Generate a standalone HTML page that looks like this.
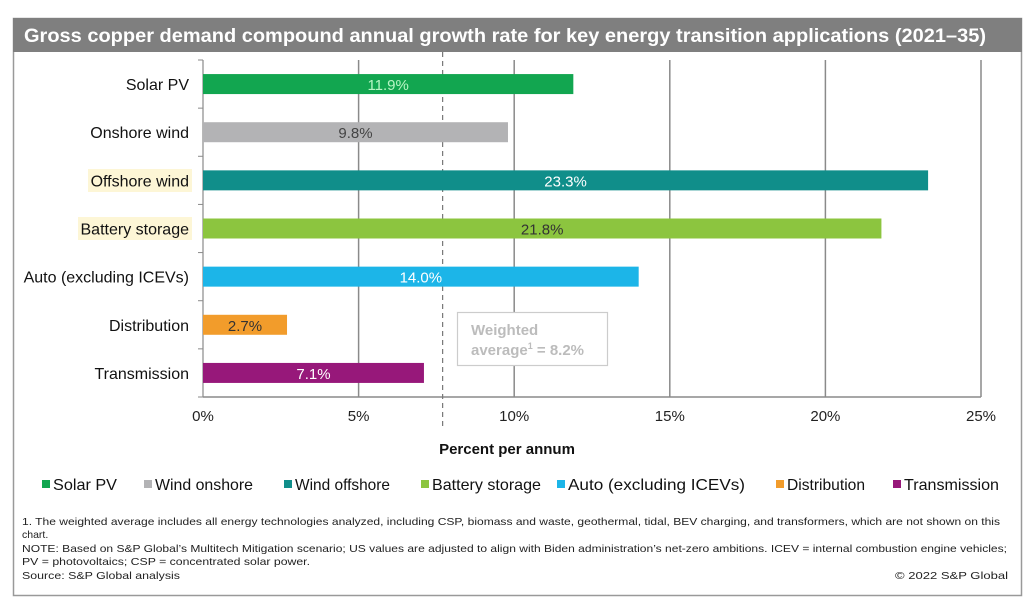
<!DOCTYPE html>
<html><head><meta charset="utf-8"><style>
html,body{margin:0;padding:0;background:#fff;}
svg{display:block;font-family:"Liberation Sans",Arial,sans-serif;}
</style></head><body>
<svg id="chart" width="1032" height="602" viewBox="0 0 1032 602">
<rect x="13.5" y="18.5" width="1008" height="577" fill="#fff" stroke="#999" stroke-width="1.5"/>
<rect x="13" y="18" width="1009" height="34" fill="#7f7f7f"/>
<text x="24" y="42" font-size="19.5" font-weight="bold" fill="#fff" textLength="962" lengthAdjust="spacingAndGlyphs">Gross copper demand compound annual growth rate for key energy transition applications (2021–35)</text>
<rect x="88" y="169" width="104" height="23" fill="#fdf6d6"/>
<rect x="78" y="217" width="114" height="23" fill="#fdf6d6"/>
<g id="grid"></g>
<g id="bars"></g>
<g id="labels"></g>
<rect x="457.5" y="312.5" width="150" height="53" fill="#fff" stroke="#ccc" stroke-width="1.2"/>
<text x="471" y="335" font-size="15" font-weight="bold" fill="#bcbcbc">Weighted</text>
<text x="471" y="355" font-size="15" font-weight="bold" fill="#bcbcbc">average<tspan font-size="9" dy="-6">1</tspan><tspan dy="6"> = 8.2%</tspan></text>
<text x="507" y="454" font-size="15" font-weight="bold" fill="#111" text-anchor="middle">Percent per annum</text>
<g id="legend"></g>
<g font-size="10.5" fill="#222">
<text x="22" y="525" textLength="978" lengthAdjust="spacingAndGlyphs">1. The weighted average includes all energy technologies analyzed, including CSP, biomass and waste, geothermal, tidal, BEV charging, and transformers, which are not shown on this</text>
<text x="22" y="538">chart.</text>
<text x="22" y="552" textLength="985" lengthAdjust="spacingAndGlyphs">NOTE: Based on S&amp;P Global’s Multitech Mitigation scenario; US values are adjusted to align with Biden administration’s net-zero ambitions. ICEV = internal combustion engine vehicles;</text>
<text x="22" y="565" textLength="288" lengthAdjust="spacingAndGlyphs">PV = photovoltaics; CSP = concentrated solar power.</text>
<text x="22" y="579" textLength="158" lengthAdjust="spacingAndGlyphs">Source: S&amp;P Global analysis</text>
<text x="1008" y="579" text-anchor="end" textLength="113" lengthAdjust="spacingAndGlyphs">© 2022 S&amp;P Global</text>
</g>
</svg>
<script>
const categories = ["Solar PV","Onshore wind","Offshore wind","Battery storage","Auto (excluding ICEVs)","Distribution","Transmission"];
const values = [11.9, 9.8, 23.3, 21.8, 14.0, 2.7, 7.1];
const valueLabels = ["11.9%","9.8%","23.3%","21.8%","14.0%","2.7%","7.1%"];
const xTicks = [0,5,10,15,20,25];
const xTickLabels = ["0%","5%","10%","15%","20%","25%"];
const legendNames = ["Solar PV","Wind onshore","Wind offshore","Battery storage","Auto (excluding ICEVs)","Distribution","Transmission"];
const averageLinePos = 7.7;

const colors = ["#12a650","#b3b3b5","#108e8a","#8cc53f","#1cb5e8","#f29c2b","#97187a"];
const labelColors = ["#b8f5c4","#444","#fff","#333","#fff","#333","#fff"];
const NS = "http://www.w3.org/2000/svg";
const X0 = 203, X1 = 981, xMax = 25, TOP = 60, BOT = 397;
const x = v => X0 + (X1 - X0) * v / xMax;
const band = (BOT - TOP) / categories.length;
const yc = i => TOP + band * (i + 0.5);
function mk(tag, attrs, parent, txt){const e=document.createElementNS(NS,tag);for(const k in attrs)e.setAttribute(k,attrs[k]);if(txt!==undefined)e.textContent=txt;parent.appendChild(e);return e;}
const grid=document.getElementById('grid'), bars=document.getElementById('bars'), labels=document.getElementById('labels'), legend=document.getElementById('legend');

xTicks.forEach((t,i)=>{
  if(t>0){const l=mk('line',{x1:x(t),x2:x(t),y1:TOP,y2:BOT,stroke:'#8a8a8a','stroke-width':1.5},grid);
  
  }
  const tx=mk('text',{x:x(t),y:421,'font-size':15,fill:'#222','text-anchor':'middle'},grid,xTickLabels[i]);
  
  
});
const ax=mk('line',{x1:X0,x2:X1,y1:BOT,y2:BOT,stroke:'#8a8a8a','stroke-width':1.5},grid);


const yax=mk('line',{x1:X0,x2:X0,y1:TOP,y2:BOT,stroke:'#8a8a8a','stroke-width':1.2},grid);


for(let i=0;i<=categories.length;i++){mk('line',{x1:X0-5,x2:X0,y1:TOP+band*i,y2:TOP+band*i,stroke:'#8a8a8a','stroke-width':1},grid);}
const avg=mk('line',{x1:x(averageLinePos),x2:x(averageLinePos),y1:52,y2:430,stroke:'#777','stroke-width':1.2,'stroke-dasharray':'5,4'},grid);



categories.forEach((c,i)=>{
  const r=mk('rect',{x:X0,y:yc(i)-10,width:x(values[i])-X0,height:20,fill:colors[i]},bars);
  
  
  const vl=mk('text',{x:(X0+x(values[i]))/2,y:yc(i)+6,'font-size':15,fill:labelColors[i],'text-anchor':'middle'},labels,valueLabels[i]);
  
  
  const cl=mk('text',{x:189,y:yc(i)+6,'font-size':16,fill:'#111','text-anchor':'end'},labels,c);
  
  
});

const legX=[42,144,284,421,557,776,893];
const legW=[64,98,95,109,177,78,95];
legendNames.forEach((n,i)=>{
  const g=mk('g',{},legend);
  
  
  mk('rect',{x:legX[i],y:480,width:8,height:8,fill:colors[i]},g);
  mk('text',{x:legX[i]+11,y:490,'font-size':16,fill:'#111',textLength:legW[i],lengthAdjust:'spacingAndGlyphs'},g,n);
});
</script>
</body></html>
